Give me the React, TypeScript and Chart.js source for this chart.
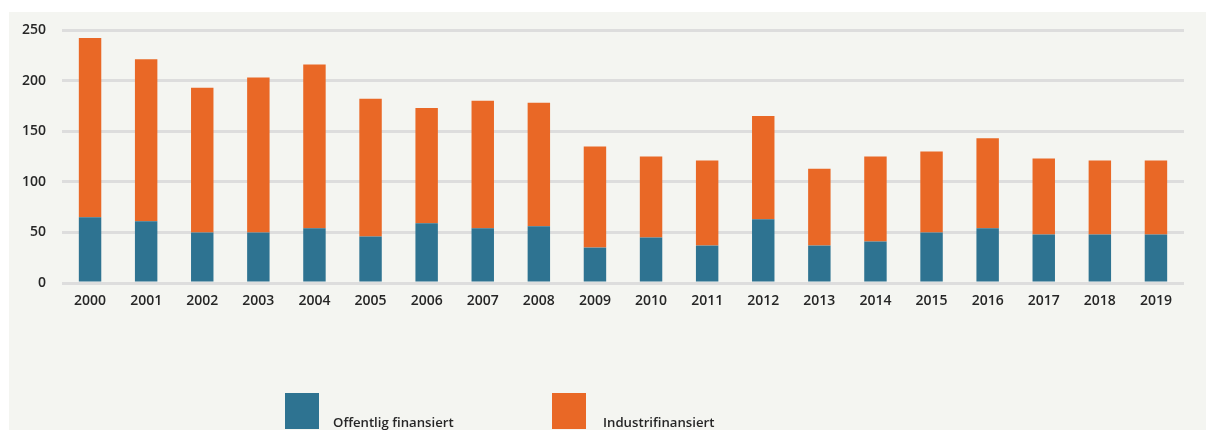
import React, { useEffect, useRef } from "react";
import { Chart, registerables } from "chart.js";

Chart.register(...registerables);

const years = ["2000","2001","2002","2003","2004","2005","2006","2007","2008","2009","2010","2011","2012","2013","2014","2015","2016","2017","2018","2019"];
const offentlig = [65, 61, 50, 50, 54, 46, 59, 54, 56, 35, 45, 37, 63, 37, 41, 50, 54, 48, 48, 48];
const industri = [177, 160, 143, 153, 162, 136, 114, 126, 122, 100, 80, 84, 102, 76, 84, 80, 89, 75, 73, 73];
const seriesNames = ["Offentlig finansiert", "Industrifinansiert"];
const seriesColors = ["#2e7391", "#e96826"];

const FONT = "'Open Sans', 'Noto Sans', sans-serif";
const TEXT = "#262626";

const legendPlugin = {
  id: "customLegend",
  afterDraw(chart: any) {
    const ctx = chart.ctx;
    const spots = [
      { bx: 276, tx: 324 },
      { bx: 543, tx: 594 },
    ];
    ctx.save();
    chart.data.datasets.forEach((ds: any, i: number) => {
      const s = spots[i];
      ctx.fillStyle = ds.backgroundColor;
      ctx.fillRect(s.bx, 381, 34, 36);
      ctx.fillStyle = TEXT;
      ctx.font = `600 13.2px ${FONT}`;
      ctx.textBaseline = "alphabetic";
      ctx.textAlign = "left";
      ctx.fillText(ds.label, s.tx, 415);
    });
    ctx.restore();
  },
};

export default function App() {
  const ref = useRef<HTMLCanvasElement | null>(null);
  useEffect(() => {
    if (!ref.current) return;
    const chart = new Chart(ref.current, {
      type: "bar",
      data: {
        labels: years,
        datasets: [
          { label: seriesNames[0], data: offentlig, backgroundColor: seriesColors[0], barPercentage: 0.4, categoryPercentage: 1 },
          { label: seriesNames[1], data: industri, backgroundColor: seriesColors[1], barPercentage: 0.4, categoryPercentage: 1 },
        ],
      },
      options: {
        animation: false,
        responsive: false,
        maintainAspectRatio: false,
        layout: { padding: { top: 18, right: 22, bottom: 117, left: 0 } },
        plugins: { legend: { display: false }, tooltip: { enabled: false } },
        scales: {
          x: {
            stacked: true,
            grid: { display: false, drawTicks: false },
            border: { display: false },
            ticks: { color: TEXT, font: { family: FONT, size: 14, weight: "600" }, padding: 10, maxRotation: 0 },
            afterFit: (s: any) => { s.height = 30; },
          },
          y: {
            stacked: true,
            min: 0,
            max: 250,
            grid: { color: "#dddddd", lineWidth: 3, drawTicks: false },
            border: { display: false },
            ticks: { stepSize: 50, color: TEXT, font: { family: FONT, size: 14, weight: "600" }, padding: 16 },
            afterFit: (s: any) => { s.width = 53; s.paddingTop = 0; s.paddingBottom = 0; },
          },
        },
      },
      plugins: [legendPlugin],
    } as any);
    return () => chart.destroy();
  }, []);

  return (
    <div style={{ position: "absolute", left: 0, top: 0, width: 1208, height: 431, background: "#ffffff" }}>
      <div style={{ position: "absolute", left: 9, top: 12, width: 1197, height: 418, background: "#f4f5f1" }}>
        <canvas ref={ref} width={1197} height={418} style={{ display: "block" }} />
      </div>
    </div>
  );
}
